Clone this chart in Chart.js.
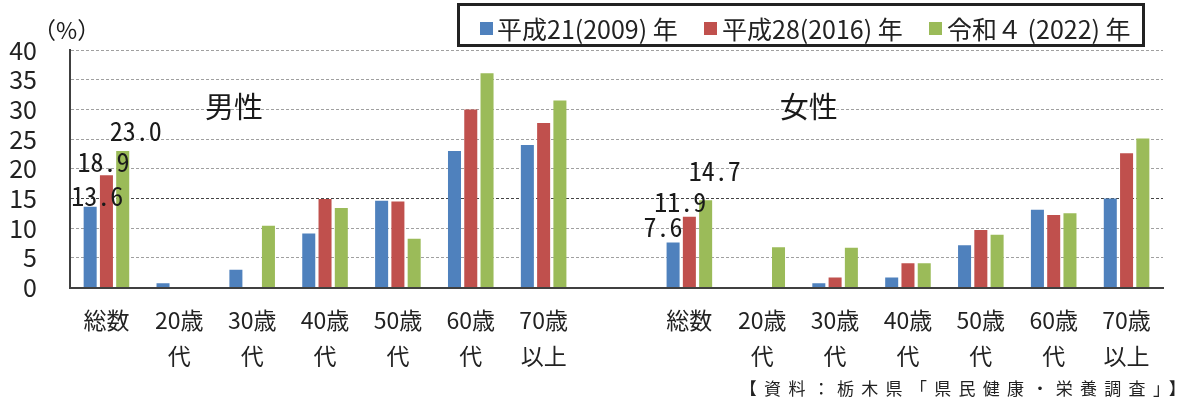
<!DOCTYPE html>
<html>
<head>
<meta charset="utf-8">
<script src="https://cdn.jsdelivr.net/npm/chart.js@4.4.1/dist/chart.umd.min.js"></script>
<style>
  html, body { margin: 0; padding: 0; background: #fff; }
  #wrap { position: relative; width: 1189px; height: 412px; overflow: hidden; }
  canvas { position: absolute; left: 0; top: 0; }
  .lg { position: absolute; left: 457px; top: 3px; width: 682px; height: 38px; border: 3px solid #222; background: #fff; }
  .sq { position: absolute; width: 13px; height: 13px; top: 16px; }
  .lt { position: absolute; top: 2px; font-family: 'Liberation Sans Narrow', 'Noto Sans CJK JP', sans-serif; font-size: 25px; line-height: 40px; color: #222; white-space: pre; }
  .src { position: absolute; right: -4px; top: 375px; font-family: 'Noto Sans CJK JP', sans-serif; font-size: 17px; letter-spacing: 7.3px; color: #222; white-space: pre; }
</style>
</head>
<body>
<div id="wrap">
  <canvas id="c" width="1189" height="412"></canvas>
  <div class="lg" id="legend"></div>
  <div class="src">【資料：栃木県「県民健康・栄養調査」】</div>
</div>
<script>
// ---- data ----
const categories = ['総数', ['20歳', '代'], ['30歳', '代'], ['40歳', '代'], ['50歳', '代'], ['60歳', '代'], ['70歳', '以上'], '',
                    '総数', ['20歳', '代'], ['30歳', '代'], ['40歳', '代'], ['50歳', '代'], ['60歳', '代'], ['70歳', '以上']];
const seriesNames = ['平成21(2009) 年', '平成28(2016) 年', '令和４ (2022) 年'];
const h21 = [13.6, 0.7, 3.0, 9.1, 14.6, 23.0, 24.0, null, 7.6, 0, 0.7, 1.7, 7.1, 13.1, 15.0];
const h28 = [18.9, 0, 0, 14.9, 14.5, 30.0, 27.7, null, 11.9, 0, 1.7, 4.1, 9.7, 12.2, 22.6];
const r4  = [23.0, 0, 10.4, 13.4, 8.2, 36.1, 31.5, null, 14.7, 6.8, 6.7, 4.1, 8.9, 12.5, 25.1];
const yTicks = [0, 5, 10, 15, 20, 25, 30, 35, 40];
const groupTitles = ['男性', '女性'];
const labeledIndices = [0, 8];   // 総数 bars carry value labels

// ---- style ----
const colors = ['#4F81BD', '#C0504D', '#9BBB59'];
const NARROW = "'Liberation Sans Narrow', 'Noto Sans CJK JP', sans-serif";
const CJK = "'Noto Sans CJK JP', sans-serif";
const MONO = "'Noto Sans Mono CJK JP', 'Liberation Mono', monospace";
// label offsets [dx, dy] per labelled group, per series (px relative to bar top centre)
const labelOffsets = [
  [[7, -2], [-3, -4], [13, -11]],
  [[-10, -6], [-9, -6], [9, -20]]
];
// group title anchor (category index, y value)
const titleAnchors = [[1.75, 30.4], [9.64, 30.4]];

// legend (HTML)
const legendPos = [[480, 497], [704, 722], [929, 947]];
const lg = document.getElementById('legend');
seriesNames.forEach((n, i) => {
  const s = document.createElement('div');
  s.className = 'sq'; s.style.left = (legendPos[i][0] - 460) + 'px'; s.style.background = colors[i];
  lg.appendChild(s);
  const t = document.createElement('div');
  t.className = 'lt'; t.style.left = (legendPos[i][1] - 460) + 'px'; t.textContent = n;
  lg.appendChild(t);
});

const overlay = {
  id: 'overlay',
  afterDatasetsDraw(chart) {
    const ctx = chart.ctx;
    const xs = chart.scales.x, ys = chart.scales.y;
    ctx.save();
    // value labels
    ctx.fillStyle = '#1a1a1a';
    ctx.font = '26px ' + MONO;
    ctx.textAlign = 'center';
    ctx.textBaseline = 'bottom';
    labeledIndices.forEach((idx, g) => {
      chart.data.datasets.forEach((ds, i) => {
        const bar = chart.getDatasetMeta(i).data[idx];
        const v = ds.data[idx];
        const off = labelOffsets[g][i];
        ctx.fillText(v.toFixed(1), bar.x + off[0], bar.y + off[1] + 4);
      });
    });
    // group titles
    ctx.font = '29px ' + CJK;
    ctx.textBaseline = 'middle';
    groupTitles.forEach((t, i) => {
      ctx.fillText(t, xs.getPixelForValue(titleAnchors[i][0]), ys.getPixelForValue(titleAnchors[i][1]));
    });
    // unit
    ctx.font = '23px ' + CJK;
    ctx.textAlign = 'left';
    ctx.fillText('（%）', 33, 30);
    ctx.restore();
  }
};

new Chart(document.getElementById('c'), {
  type: 'bar',
  data: {
    labels: categories,
    datasets: [h21, h28, r4].map((d, i) => ({
      label: seriesNames[i],
      data: d,
      backgroundColor: colors[i],
      borderWidth: 0,
      categoryPercentage: 0.67,
      barPercentage: 0.8
    }))
  },
  options: {
    responsive: false,
    animation: false,
    layout: { padding: { top: 50, right: 26, left: 0, bottom: 0 } },
    plugins: { legend: { display: false }, tooltip: { enabled: false } },
    scales: {
      x: {
        grid: { display: false, drawTicks: false },
        border: { display: true, color: '#404040', width: 2 },
        ticks: {
          color: '#222', padding: 15, maxRotation: 0, autoSkip: false,
          font: { family: NARROW, size: 23, lineHeight: '36px' }
        },
        afterFit(s) { s.height = 124.5; }
      },
      y: {
        min: 0, max: 40,
        afterBuildTicks(s) { s.ticks = yTicks.map(v => ({ value: v })); },
        grid: {
          drawTicks: false,
          lineWidth: 1,
          color: c => c.tick && c.tick.value === 0 ? 'rgba(0,0,0,0)' : (c.tick && c.tick.value === 15 ? '#444' : '#a0a0a0')
        },
        border: { display: true, color: '#404040', width: 2, dash: [3, 2] },
        ticks: { color: '#222', padding: 33, autoSkip: false, font: { family: NARROW, size: 25 } },
        afterFit(s) { s.width = 70; }
      }
    }
  },
  plugins: [overlay]
});
</script>
</body>
</html>
